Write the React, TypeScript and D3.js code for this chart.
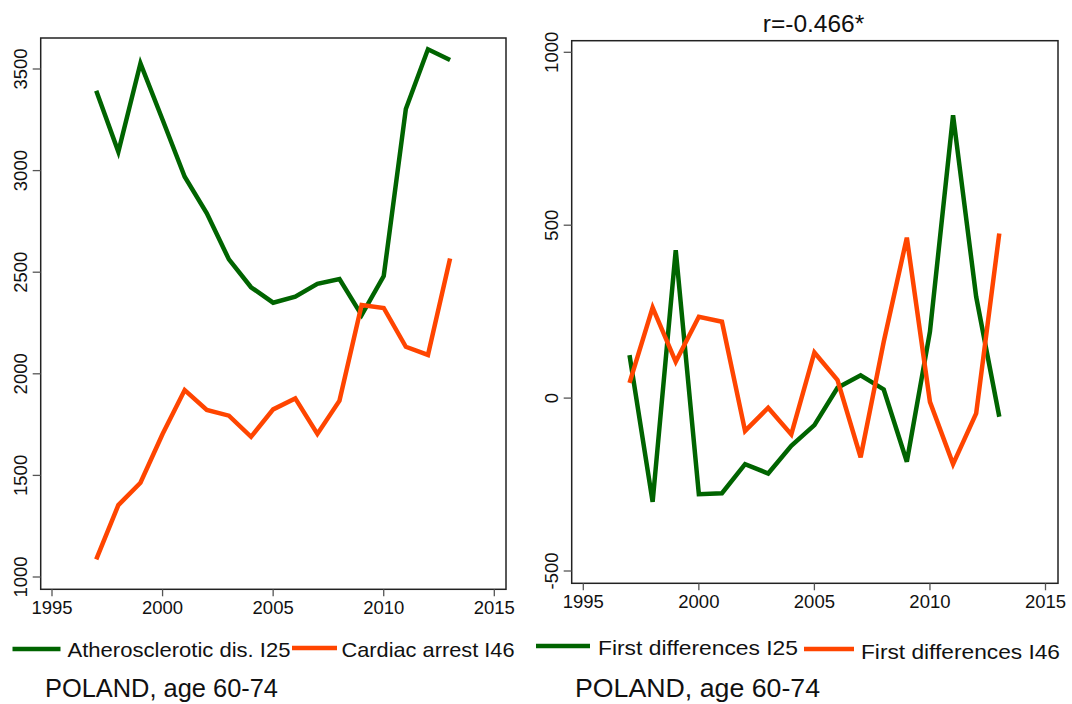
import React from "react";
import * as d3 from "d3";

// Mortality counts, Poland, age 60-74
const years = [1997, 1998, 1999, 2000, 2001, 2002, 2003, 2004, 2005, 2006, 2007, 2008, 2009, 2010, 2011, 2012, 2013];
const atheroI25 = [3393, 3093, 3528, 3250, 2970, 2790, 2563, 2426, 2350, 2380, 2443, 2466, 2289, 2481, 3303, 3597, 3544];
const cardiacI46 = [1087, 1354, 1464, 1704, 1920, 1822, 1794, 1690, 1825, 1879, 1704, 1868, 2339, 2324, 2133, 2093, 2568];

// Year-on-year first differences
const diffI25 = [124, -300, 428, -278, -275, -191, -218, -138, -78, 30, 66, 25, -184, 192, 818, 293, -54];
const diffI46 = [44, 262, 105, 235, 221, -95, -28, -105, 132, 52, -171, 163, 464, -11, -191, -44, 476];

const xTicks = [1995, 2000, 2005, 2010, 2015];
const leftYTicks = [1000, 1500, 2000, 2500, 3000, 3500];
const rightYTicks = [-500, 0, 500, 1000];

const titleRight = "r=-0.466*";
const caption = "POLAND, age 60-74";
const legendLeft = ["Atherosclerotic dis. I25", "Cardiac arrest I46"];
const legendRight = ["First differences I25", "First differences I46"];

const GREEN = "#006400";
const ORANGE = "#ff4500";
const FONT = "'Liberation Sans', Arial, Helvetica, sans-serif";

type Panel = {
  frame: { x0: number; x1: number; y0: number; y1: number };
  x: d3.ScaleLinear<number, number>;
  y: d3.ScaleLinear<number, number>;
  yTicks: number[];
  series: { values: number[]; color: string }[];
  labelGap: number;
};

function PanelView({ p }: { p: Panel }) {
  const { frame, x, y } = p;
  const line = (vals: number[]) =>
    d3
      .line<number>()
      .x((_, i) => x(years[i]))
      .y((v) => y(v))(vals) || "";
  const tickLen = 8;
  return (
    <g>
      <rect
        x={frame.x0}
        y={frame.y0}
        width={frame.x1 - frame.x0}
        height={frame.y1 - frame.y0}
        fill="none"
        stroke="#222"
        strokeWidth={1.5}
      />
      {p.yTicks.map((t) => (
        <g key={"y" + t}>
          <line x1={frame.x0 - tickLen} x2={frame.x0} y1={y(t)} y2={y(t)} stroke="#555" strokeWidth={1.3} />
          <text
            transform={`translate(${frame.x0 - tickLen - 6},${y(t)}) rotate(-90)`}
            textAnchor="middle"
            fontFamily={FONT}
            fontSize={18.5}
            fill="#111"
          >
            {t}
          </text>
        </g>
      ))}
      {xTicks.map((t) => (
        <g key={"x" + t}>
          <line x1={x(t)} x2={x(t)} y1={frame.y1} y2={frame.y1 + 7} stroke="#555" strokeWidth={1.3} />
          <text x={x(t)} y={frame.y1 + p.labelGap} textAnchor="middle" fontFamily={FONT} fontSize={18.5} fill="#111">
            {t}
          </text>
        </g>
      ))}
      {p.series.map((s, i) => (
        <path key={i} d={line(s.values)} fill="none" stroke={s.color} strokeWidth={4.5} />
      ))}
    </g>
  );
}

export default function App() {
  const leftPanel: Panel = {
    frame: { x0: 40.7, x1: 506, y0: 38, y1: 589.3 },
    x: d3.scaleLinear().domain([1995, 2015]).range([52, 494.3]),
    y: d3.scaleLinear().domain([1000, 3500]).range([577, 69]),
    yTicks: leftYTicks,
    series: [
      { values: atheroI25, color: GREEN },
      { values: cardiacI46, color: ORANGE },
    ],
    labelGap: 25,
  };
  const rightPanel: Panel = {
    frame: { x0: 571.7, x1: 1058, y0: 40.7, y1: 583.3 },
    x: d3.scaleLinear().domain([1995, 2015]).range([583.3, 1045.5]),
    y: d3.scaleLinear().domain([-500, 1000]).range([571, 52.3]),
    yTicks: rightYTicks,
    series: [
      { values: diffI25, color: GREEN },
      { values: diffI46, color: ORANGE },
    ],
    labelGap: 25,
  };

  const legendItems = [
    { x0: 12.5, x1: 60.5, ly: 649, tx: 67.5, tw: 223, ty: 656.5, label: legendLeft[0], color: GREEN },
    { x0: 292, x1: 337, ly: 648, tx: 341.5, tw: 173, ty: 656.5, label: legendLeft[1], color: ORANGE },
    { x0: 536, x1: 590, ly: 646, tx: 598, tw: 200, ty: 654.5, label: legendRight[0], color: GREEN },
    { x0: 804, x1: 854, ly: 649, tx: 861, tw: 199, ty: 658.5, label: legendRight[1], color: ORANGE },
  ];

  return (
    <svg
      width={1072}
      height={704}
      style={{ position: "absolute", left: 0, top: 0, background: "#fff" }}
    >
      <rect width={1072} height={704} fill="#fff" />
      <PanelView p={leftPanel} />
      <PanelView p={rightPanel} />
      <text x={813.5} y={32} textAnchor="middle" fontFamily={FONT} fontSize={24.5} fill="#111">
        {titleRight}
      </text>
      {legendItems.map((d, i) => (
        <g key={i}>
          <line x1={d.x0} x2={d.x1} y1={d.ly} y2={d.ly} stroke={d.color} strokeWidth={4.5} />
          <text
            x={d.tx}
            y={d.ty}
            fontFamily={FONT}
            fontSize={21}
            textLength={d.tw}
            lengthAdjust="spacingAndGlyphs"
            fill="#111"
          >
            {d.label}
          </text>
        </g>
      ))}
      <text x={45} y={697} fontFamily={FONT} fontSize={26} textLength={233} lengthAdjust="spacingAndGlyphs" fill="#111">
        {caption}
      </text>
      <text x={575} y={697} fontFamily={FONT} fontSize={26} textLength={245} lengthAdjust="spacingAndGlyphs" fill="#111">
        {caption}
      </text>
    </svg>
  );
}
